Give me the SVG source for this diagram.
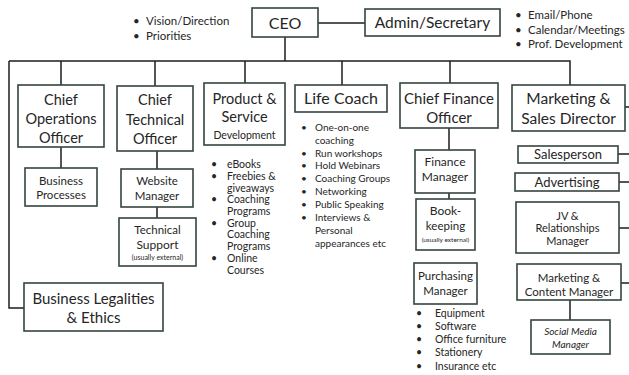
<svg xmlns="http://www.w3.org/2000/svg" width="629" height="375" viewBox="0 0 629 375">
<style>
.box{fill:#fff;stroke:#34443f;stroke-width:1.6}
.ln{stroke:#1e1e1e;stroke-width:1.5;fill:none}
text{font-family:Lato,"Liberation Sans",sans-serif;fill:#262626}
.c{text-anchor:middle}
.h{font-size:14.5px}
.m{font-size:11.5px}
.s{font-size:10.5px}
.i{font-style:italic}
</style>
<rect width="629" height="375" fill="#fff"/>
<g id="connectors">
<path class="ln" d="M318,23H365 M285,37V61 M9,61H570V85 M61,61V85 M155,61V86 M245,61V83 M342,61V85 M450,61V83 M9,61V308H24"/>
<path class="ln" d="M61,147V168 M157,151V169 M157,207V218 M449,128V150 M449,193V199 M625,107H629 M618,154H629 M619,182H629 M619,228H629 M621,283H629 M570,300V320"/>
</g>
<g id="notes-ceo" style="font-size:11.5px">
<text x="133" y="25">•</text><text x="146" y="25">Vision/Direction</text>
<text x="133" y="40">•</text><text x="146" y="40">Priorities</text>
</g>
<g id="notes-admin" style="font-size:11.5px">
<text x="515" y="19">•</text><text x="528" y="19">Email/Phone</text>
<text x="515" y="34">•</text><text x="528" y="34">Calendar/Meetings</text>
<text x="515" y="48">•</text><text x="528" y="48">Prof. Development</text>
</g>
<g id="ceo"><rect class="box" x="252" y="8" width="66" height="29"/><text class="c" x="285" y="28.5" style="font-size:16px">CEO</text></g>
<g id="admin"><rect class="box" x="365" y="9" width="135" height="27"/><text class="c" x="432.5" y="28" style="font-size:15.5px">Admin/Secretary</text></g>
<g id="coo"><rect class="box" x="18" y="85" width="86" height="62"/>
<text class="c h" x="61" y="105">Chief</text><text class="c h" x="61" y="124">Operations</text><text class="c h" x="61" y="143">Officer</text></g>
<g id="business-processes"><rect class="box" x="25" y="168" width="72" height="38"/>
<text class="c m" x="61" y="185">Business</text><text class="c m" x="61" y="199">Processes</text></g>
<g id="cto"><rect class="box" x="117" y="86" width="76" height="65"/>
<text class="c h" x="155" y="105">Chief</text><text class="c h" x="155" y="125">Technical</text><text class="c h" x="155" y="144">Officer</text></g>
<g id="website-manager"><rect class="box" x="121" y="169" width="72" height="38"/>
<text class="c m" x="157" y="185">Website</text><text class="c m" x="157" y="200">Manager</text></g>
<g id="technical-support"><rect class="box" x="119" y="218" width="77" height="48"/>
<text class="c m" x="157.5" y="234">Technical</text><text class="c" x="157.5" y="249" style="font-size:12px">Support</text><text class="c" x="157.5" y="259.5" style="font-size:7px">(usually external)</text></g>
<g id="legal"><rect class="box" x="24" y="283" width="139" height="48"/>
<text class="c" x="93.5" y="304" style="font-size:15px">Business Legalities</text><text class="c" x="93.5" y="323" style="font-size:15px">&amp; Ethics</text></g>
<g id="product"><rect class="box" x="204" y="83" width="81" height="62"/>
<text class="c h" x="244.5" y="104">Product &amp;</text><text class="c h" x="244.5" y="122">Service</text><text class="c" x="244.5" y="139" style="font-size:10.5px">Development</text></g>
<g id="product-notes" class="s">
<text x="211" y="168">•</text><text x="227" y="168">eBooks</text>
<text x="211" y="180">•</text><text x="227" y="180">Freebies &amp;</text>
<text x="227" y="191.5">giveaways</text>
<text x="211" y="203">•</text><text x="227" y="203">Coaching</text>
<text x="227" y="215">Programs</text>
<text x="211" y="227">•</text><text x="227" y="227">Group</text>
<text x="227" y="238">Coaching</text>
<text x="227" y="250">Programs</text>
<text x="211" y="262">•</text><text x="227" y="262">Online</text>
<text x="227" y="274">Courses</text>
</g>
<g id="life-coach"><rect class="box" x="295" y="85" width="92" height="27"/><text class="c" x="341" y="104" style="font-size:16px">Life Coach</text></g>
<g id="life-notes" style="font-size:10px">
<text x="301" y="131">•</text><text x="315" y="131">One-on-one</text>
<text x="315" y="144">coaching</text>
<text x="301" y="157">•</text><text x="315" y="157">Run workshops</text>
<text x="301" y="169">•</text><text x="315" y="169">Hold Webinars</text>
<text x="301" y="182">•</text><text x="315" y="182">Coaching Groups</text>
<text x="301" y="195">•</text><text x="315" y="195">Networking</text>
<text x="301" y="208">•</text><text x="315" y="208">Public Speaking</text>
<text x="301" y="221">•</text><text x="315" y="221">Interviews &amp;</text>
<text x="315" y="234">Personal</text>
<text x="315" y="247">appearances etc</text>
</g>
<g id="cfo"><rect class="box" x="400" y="83" width="98" height="45"/>
<text class="c" x="449" y="103.5" style="font-size:15px">Chief Finance</text><text class="c" x="449" y="123" style="font-size:15px">Officer</text></g>
<g id="finance-manager"><rect class="box" x="415" y="150" width="60" height="43"/>
<text class="c" x="445" y="166" style="font-size:12px">Finance</text><text class="c" x="445" y="181" style="font-size:12px">Manager</text></g>
<g id="bookkeeping"><rect class="box" x="416" y="199" width="59" height="51"/>
<text class="c" x="445.5" y="215" style="font-size:12px">Book-</text><text class="c m" x="445.5" y="230">keeping</text><text class="c" x="445.5" y="241.5" style="font-size:6.5px">(usually external)</text></g>
<g id="purchasing"><rect class="box" x="414" y="263" width="63" height="41"/>
<text class="c m" x="445.5" y="280">Purchasing</text><text class="c m" x="445.5" y="295">Manager</text></g>
<g id="purchasing-notes" class="s">
<text x="416" y="317">•</text><text x="435" y="317">Equipment</text>
<text x="416" y="330">•</text><text x="435" y="330">Software</text>
<text x="416" y="343">•</text><text x="435" y="343">Office furniture</text>
<text x="416" y="356">•</text><text x="435" y="356">Stationery</text>
<text x="416" y="370">•</text><text x="435" y="370">Insurance etc</text>
</g>
<g id="marketing-director"><rect class="box" x="512" y="85" width="113" height="46"/>
<text class="c" x="568.5" y="103.5" style="font-size:15.5px">Marketing &amp;</text><text class="c" x="568.5" y="123.5" style="font-size:15.5px">Sales Director</text></g>
<g id="salesperson"><rect class="box" x="518" y="146" width="100" height="17"/><text class="c" x="568" y="159" style="font-size:13px">Salesperson</text></g>
<g id="advertising"><rect class="box" x="515" y="173" width="104" height="18"/><text class="c" x="567" y="186.5" style="font-size:13px">Advertising</text></g>
<g id="jv"><rect class="box" x="516" y="202" width="103" height="51"/>
<text class="c" x="567.5" y="219.5" style="font-size:11px">JV &amp;</text><text class="c" x="567.5" y="232" style="font-size:11px">Relationships</text><text class="c" x="567.5" y="244.5" style="font-size:11px">Manager</text></g>
<g id="content-manager"><rect class="box" x="517" y="264" width="104" height="36"/>
<text class="c m" x="569" y="282">Marketing &amp;</text><text class="c m" x="569" y="296">Content Manager</text></g>
<g id="social-media"><rect class="box" x="531" y="320" width="79" height="34"/>
<text class="c i" x="570.5" y="334.5" style="font-size:10px">Social Media</text><text class="c i" x="570.5" y="348" style="font-size:10px">Manager</text></g>
</svg>
